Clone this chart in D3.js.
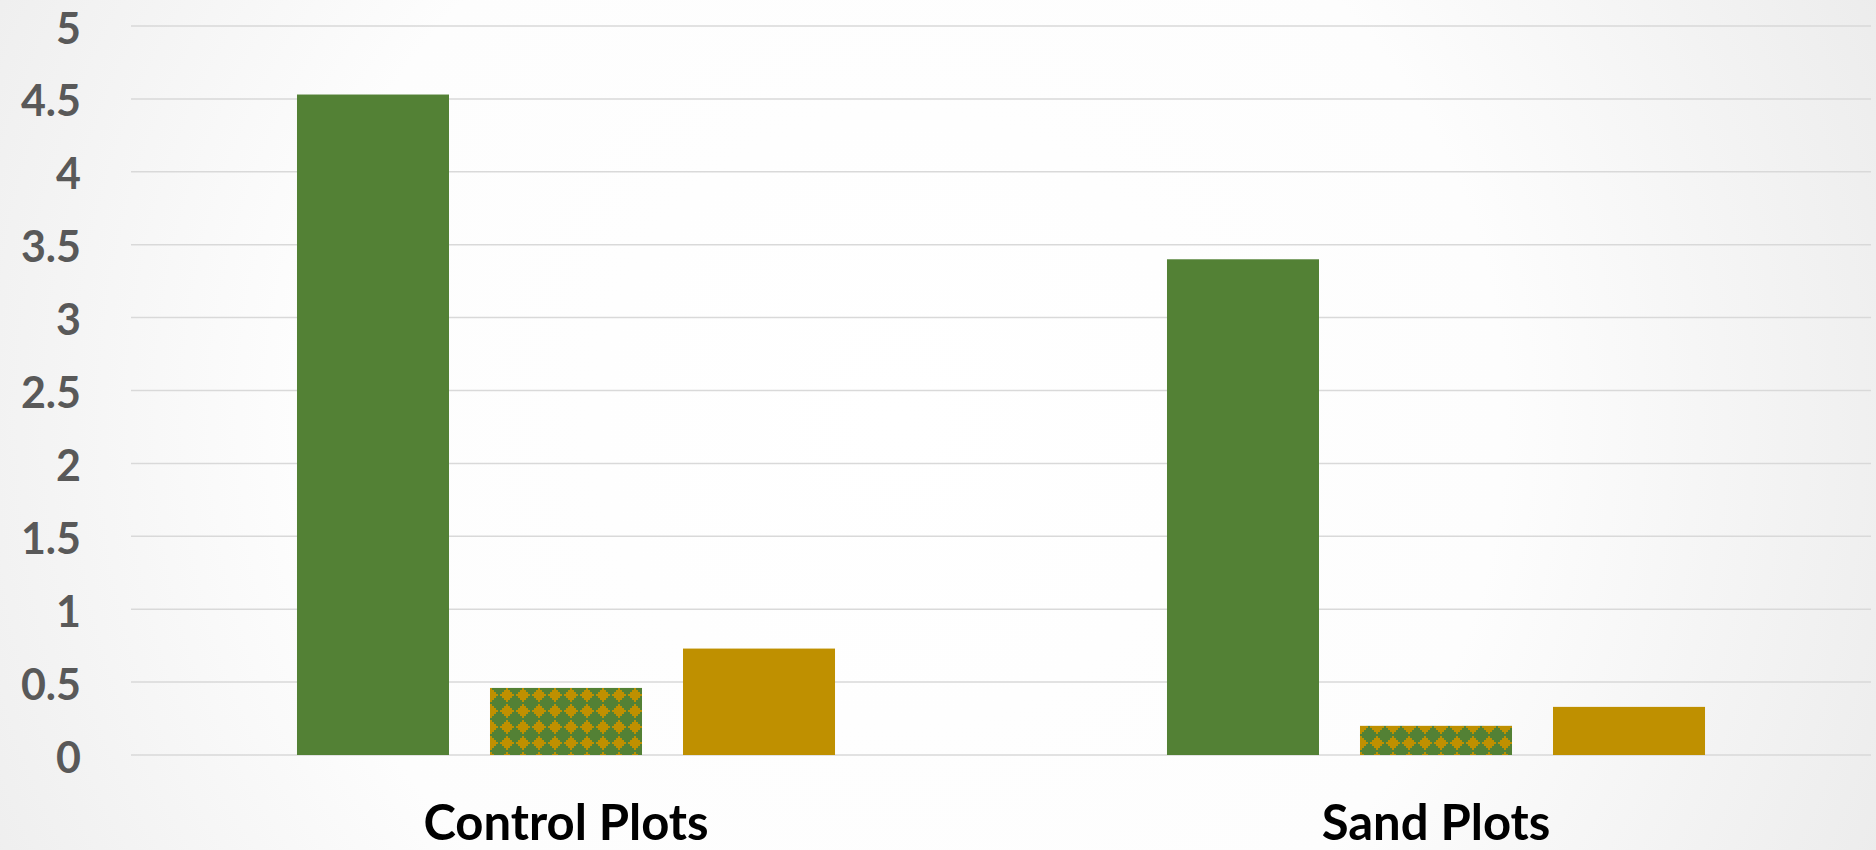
<!DOCTYPE html>
<html>
<head>
<meta charset="utf-8">
<script src="https://cdn.jsdelivr.net/npm/d3@7"></script>
<style>
  html, body { margin: 0; padding: 0; background: #fff; }
  svg { display: block; }
</style>
</head>
<body>
<svg id="chart" width="1876" height="850"></svg>
<script>
// Plot groups along the x axis
const categories = ["Control Plots", "Sand Plots"];
// Three series per group: solid green, diamond pattern, solid gold
const seriesNames = ["A", "B", "C"];
const valuesA = [4.53, 3.40];
const valuesB = [0.46, 0.20];
const valuesC = [0.73, 0.33];
const yTicks = [0, 0.5, 1, 1.5, 2, 2.5, 3, 3.5, 4, 4.5, 5];
const yTickLabels = ["0", "0.5", "1", "1.5", "2", "2.5", "3", "3.5", "4", "4.5", "5"];

const W = 1876, H = 850;
const plot = { left: 131, right: 1871, top: 26, bottom: 755 };

const svg = d3.select("#chart");
const defs = svg.append("defs");

// Soft radial backdrop: white in the middle, pale grey toward the corners
const bg = defs.append("radialGradient")
  .attr("id", "bgGrad")
  .attr("gradientUnits", "userSpaceOnUse")
  .attr("cx", 900).attr("cy", 420).attr("r", 1100);
bg.append("stop").attr("offset", "0").attr("stop-color", "#ffffff");
bg.append("stop").attr("offset", "0.55").attr("stop-color", "#fdfdfd");
bg.append("stop").attr("offset", "1").attr("stop-color", "#ebebeb");
svg.append("rect").attr("width", W).attr("height", H).attr("fill", "url(#bgGrad)");

// Diamond fill: 8x8 bitmap drawn at 2x, gold diamonds on green
const diamondRows = [
  "...X....",
  "..XXX...",
  ".XXXXX..",
  "XXXXXXX.",
  ".XXXXX..",
  "..XXX...",
  "...X....",
  "........"
];
const pat = defs.append("pattern")
  .attr("id", "diamonds")
  .attr("patternUnits", "userSpaceOnUse")
  .attr("x", 1).attr("y", 0)
  .attr("width", 16).attr("height", 16);
pat.append("rect").attr("width", 16).attr("height", 16).attr("fill", "#538135");
diamondRows.forEach((row, r) => {
  row.split("").forEach((ch, c) => {
    if (ch === "X") {
      pat.append("rect")
        .attr("x", c * 2).attr("y", r * 2)
        .attr("width", 2).attr("height", 2)
        .attr("fill", "#BF9000");
    }
  });
});

const fills = { A: "#538135", B: "url(#diamonds)", C: "#BF9000" };

const y = d3.scaleLinear().domain([0, 5]).range([plot.bottom, plot.top]);
const x0 = d3.scaleBand().domain(categories).range([plot.left, plot.right]).padding(0);
const x1 = d3.scaleBand().domain(seriesNames).range([0, x0.bandwidth()])
  .paddingInner(0.2124).paddingOuter(0.86);

// Horizontal gridlines
svg.append("g")
  .selectAll("line")
  .data(yTicks)
  .join("line")
  .attr("x1", plot.left).attr("x2", plot.right)
  .attr("y1", d => y(d)).attr("y2", d => y(d))
  .attr("stroke", "#d9d9d9")
  .attr("stroke-width", 1.5);

// Y axis labels
const yAxis = d3.axisLeft(y)
  .tickValues(yTicks)
  .tickFormat((d, i) => yTickLabels[i])
  .tickSize(0)
  .tickPadding(0);
const yg = svg.append("g")
  .attr("transform", `translate(81,0)`)
  .call(yAxis);
yg.select(".domain").remove();
yg.selectAll("text")
  .attr("font-family", "Lato, 'Open Sans', sans-serif")
  .attr("font-weight", "bold")
  .attr("font-size", 43)
  .attr("fill", "#595959")
  .attr("dy", "17px");

// Bars
const rows = categories.map((c, i) => ({
  category: c,
  values: [
    { key: "A", value: valuesA[i] },
    { key: "B", value: valuesB[i] },
    { key: "C", value: valuesC[i] }
  ]
}));

svg.append("g")
  .selectAll("g")
  .data(rows)
  .join("g")
  .attr("transform", d => `translate(${x0(d.category)},0)`)
  .selectAll("rect")
  .data(d => d.values)
  .join("rect")
  .attr("x", d => x1(d.key))
  .attr("width", x1.bandwidth())
  .attr("y", d => y(d.value))
  .attr("height", d => y(0) - y(d.value))
  .attr("fill", d => fills[d.key]);

// Category labels
const xAxis = d3.axisBottom(x0).tickSize(0).tickPadding(0);
const xg = svg.append("g")
  .attr("transform", `translate(0,840)`)
  .call(xAxis);
xg.select(".domain").remove();
xg.selectAll("text")
  .attr("font-family", "Lato, 'Open Sans', sans-serif")
  .attr("font-weight", "bold")
  .attr("font-size", 49)
  .attr("fill", "#000000")
  .attr("dy", "0");
</script>
</body>
</html>
